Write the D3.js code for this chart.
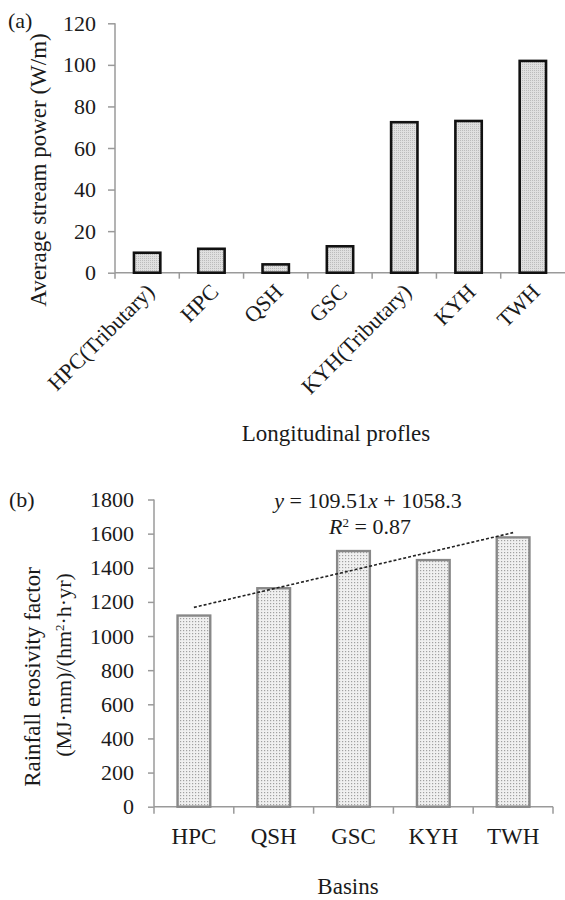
<!DOCTYPE html>
<html><head><meta charset="utf-8">
<script src="https://cdn.jsdelivr.net/npm/d3@7"></script>
<style>
html,body{margin:0;padding:0;background:#fff;}
svg{display:block;}
svg text{font-family:"Liberation Serif","Times New Roman",serif;fill:#1a1a1a;}
</style></head>
<body>
<svg id="c" width="565" height="900"></svg>
<script>
// ---- Data (a) ----
const catsA = ["HPC(Tributary)", "HPC", "QSH", "GSC", "KYH(Tributary)", "KYH", "TWH"];
const valsA = [9.6, 11.5, 4.0, 12.7, 72.4, 73.0, 101.9];
const ticksA = [0, 20, 40, 60, 80, 100, 120];
// ---- Data (b) ----
const catsB = ["HPC", "QSH", "GSC", "KYH", "TWH"];
const valsB = [1120, 1280, 1498, 1445, 1578];
const ticksB = [0, 200, 400, 600, 800, 1000, 1200, 1400, 1600, 1800];
const trendSlope = 109.51, trendIntercept = 1058.3;

const FONT = "Liberation Serif";
const svg = d3.select("#c");
const defs = svg.append("defs");
const pA = defs.append("pattern").attr("id","dotA").attr("width",2).attr("height",2).attr("patternUnits","userSpaceOnUse");
pA.append("rect").attr("width",2).attr("height",2).attr("fill","#e0e0e0");
pA.append("rect").attr("width",1).attr("height",1).attr("fill","#bcbcbc");
const pB = defs.append("pattern").attr("id","dotB").attr("width",3).attr("height",3).attr("patternUnits","userSpaceOnUse");
pB.append("rect").attr("width",3).attr("height",3).attr("fill","#f0f0f0");
pB.append("rect").attr("width",1.2).attr("height",1.2).attr("fill","#a0a0a0");

const axisColor = "#9a9a9a";

function styleAxis(g){
  g.attr("font-family", FONT).attr("font-size", 22);
  g.selectAll("path,line").attr("stroke",axisColor).attr("stroke-width",1.5);
  g.selectAll("text").attr("fill","#1a1a1a").attr("font-family", FONT).attr("font-size", 22);
}

// ================= (a) =================
const xA = d3.scaleBand().domain(catsA).range([115, 565]).paddingInner(0.59).paddingOuter(0.295);
const yA = d3.scaleLinear().domain([0, 120]).range([272.7, 23.3]);

const gyA = svg.append("g").attr("transform","translate(115,0)")
  .call(d3.axisLeft(yA).tickValues(ticksA).tickFormat(d3.format("d")).tickSize(7).tickPadding(12));
styleAxis(gyA);
gyA.select(".domain").attr("d", `M0,${yA(120)}V${yA(0)}`);

const gxA = svg.append("g");
gxA.append("line").attr("x1",115).attr("x2",565).attr("y1",yA(0)).attr("y2",yA(0)).attr("stroke",axisColor).attr("stroke-width",1.5);
d3.range(catsA.length).forEach(i=>{
  const xx = 115 + i*xA.step();
  gxA.append("line").attr("x1",xx).attr("x2",xx).attr("y1",yA(0)).attr("y2",yA(0)+6).attr("stroke",axisColor).attr("stroke-width",1.5);
});

svg.append("g").selectAll("rect").data(valsA).join("rect")
  .attr("x",(d,i)=>xA(catsA[i])).attr("width",xA.bandwidth())
  .attr("y",d=>yA(d)).attr("height",d=>yA(0)-yA(d))
  .attr("fill","url(#dotA)").attr("stroke","#111").attr("stroke-width",2.6);

svg.append("g").selectAll("text").data(catsA).join("text")
  .attr("transform",(d)=>`translate(${xA(d)+xA.bandwidth()/2+3},${yA(0)+15}) rotate(-45)`)
  .attr("text-anchor","end").attr("dy","0.35em")
  .attr("font-size",22).text(d=>d);

svg.append("text").attr("x",336).attr("y",441).attr("text-anchor","middle").attr("font-size",23).text("Longitudinal  profles");
svg.append("text").attr("transform","translate(46,170) rotate(-90)").attr("text-anchor","middle").attr("font-size",23).text("Average stream power (W/m)");
svg.append("text").attr("x",8).attr("y",28).attr("font-size",22).text("(a)");

// ================= (b) =================
const xB = d3.scaleBand().domain(catsB).range([154, 553]).paddingInner(0.59).paddingOuter(0.295);
const yB = d3.scaleLinear().domain([0, 1800]).range([806.7, 499.5]);

const gyB = svg.append("g").attr("transform","translate(154,0)")
  .call(d3.axisLeft(yB).tickValues(ticksB).tickFormat(d3.format("d")).tickSize(6).tickPadding(14));
styleAxis(gyB);
gyB.select(".domain").attr("d", `M0,${yB(1800)}V${yB(0)}`);

const gxB = svg.append("g");
gxB.append("line").attr("x1",154).attr("x2",553).attr("y1",yB(0)).attr("y2",yB(0)).attr("stroke",axisColor).attr("stroke-width",1.5);
d3.range(catsB.length+1).forEach(i=>{
  const xx = 154 + i*xB.step();
  gxB.append("line").attr("x1",xx).attr("x2",xx).attr("y1",yB(0)).attr("y2",yB(0)+7).attr("stroke",axisColor).attr("stroke-width",1.5);
});

svg.append("g").selectAll("rect").data(valsB).join("rect")
  .attr("x",(d,i)=>xB(catsB[i])).attr("width",xB.bandwidth())
  .attr("y",d=>yB(d)).attr("height",d=>yB(0)-yB(d))
  .attr("fill","url(#dotB)").attr("stroke","#888").attr("stroke-width",2.4);

const tx = i => xB(catsB[i]) + xB.bandwidth()/2;
svg.append("line")
  .attr("x1",tx(0)).attr("y1",yB(trendSlope*1+trendIntercept))
  .attr("x2",tx(catsB.length-1)).attr("y2",yB(trendSlope*catsB.length+trendIntercept))
  .attr("stroke","#222").attr("stroke-width",1.6).attr("stroke-dasharray","3,2");

const eq = svg.append("text").attr("x",368).attr("y",508).attr("text-anchor","middle").attr("font-size",22);
eq.append("tspan").attr("font-style","italic").text("y");
eq.append("tspan").text(` = ${trendSlope}`);
eq.append("tspan").attr("font-style","italic").text("x");
eq.append("tspan").text(` + ${trendIntercept}`);
const r2 = svg.append("text").attr("x",370).attr("y",534).attr("text-anchor","middle").attr("font-size",22);
r2.append("tspan").attr("font-style","italic").text("R");
r2.append("tspan").attr("dy","-7").attr("font-size",13).text("2");
r2.append("tspan").attr("dy","7").text(" = 0.87");

svg.append("g").selectAll("text").data(catsB).join("text")
  .attr("x",d=>xB(d)+xB.bandwidth()/2).attr("y",844).attr("text-anchor","middle")
  .attr("font-size",23).text(d=>d);

svg.append("text").attr("x",348).attr("y",894).attr("text-anchor","middle").attr("font-size",23).text("Basins");

svg.append("text").attr("transform","translate(40,677) rotate(-90)").attr("text-anchor","middle").attr("font-size",23).text("Rainfall  erosivity  factor");
const l2 = svg.append("text").attr("transform","translate(71,665) rotate(-90)").attr("text-anchor","middle").attr("font-size",22);
l2.append("tspan").text("(MJ·mm)/(hm");
l2.append("tspan").attr("dy","-7").attr("font-size",13).text("2");
l2.append("tspan").attr("dy","7").text("·h·yr)");

svg.append("text").attr("x",9).attr("y",507).attr("font-size",22).text("(b)");
</script>
</body></html>
